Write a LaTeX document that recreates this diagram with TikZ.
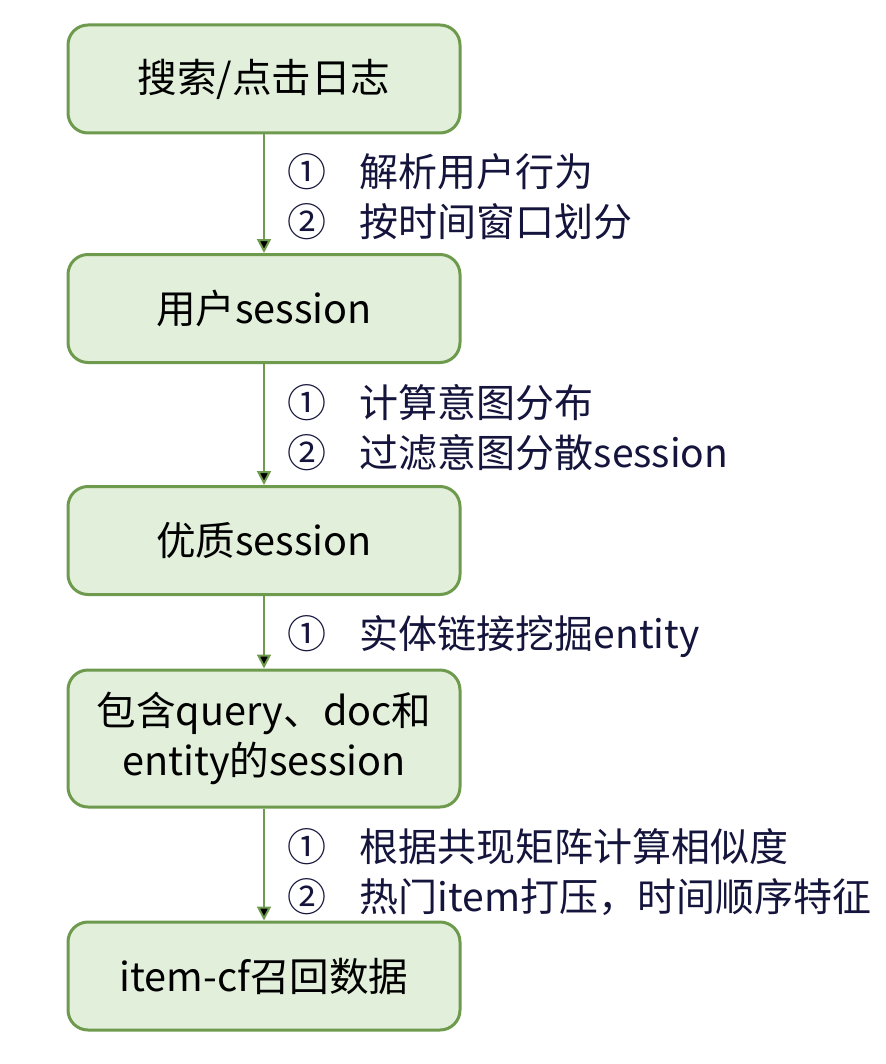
\documentclass[tikz,border=0pt]{standalone}
\usepackage{fontspec}
\setmainfont{Noto Sans CJK SC}
\usetikzlibrary{arrows.meta}
\definecolor{boxfill}{HTML}{E2EFDA}
\definecolor{boxline}{HTML}{6E9A4E}
\definecolor{labelink}{HTML}{14143C}
\tikzset{
  stagebox/.style={draw=boxline, fill=boxfill, line width=1.5pt, rounded corners=10pt,
    minimum width=196pt, minimum height=54pt, align=center,
    font=\fontsize{19.8}{25}\selectfont},
  flowarrow/.style={draw=boxline, line width=1pt, -{Triangle[length=7pt,width=7pt]}},
  steplabel/.style={anchor=west, xshift=8pt, align=left, text=labelink,
    font=\fontsize{19.5}{25}\selectfont}
}
\newcommand{\numa}{①\hspace{0.85em}}
\newcommand{\numb}{②\hspace{0.85em}}

\begin{document}
\begin{tikzpicture}[x=0.5pt,y=-0.5pt]
\useasboundingbox (0,0) rectangle (886,1064);
\node[stagebox] (log) at (264,79) {搜索/点击日志};
\node[stagebox] (usersess) at (264,308.5) {用户session};
\node[stagebox] (goodsess) at (264,540.5) {优质session};
\node[stagebox, minimum height=68.5pt] (entsess) at (264,738.5) {包含query、doc和\\entity的session};
\node[stagebox] (recall) at (264,976) {item-cf召回数据};

\path[flowarrow] (log) edge node[steplabel, yshift=-1.5pt] {\numa 解析用户行为\\\numb 按时间窗口划分} (usersess);
\path[flowarrow] (usersess) edge node[steplabel, yshift=-1.5pt] {\numa 计算意图分布\\\numb 过滤意图分散session} (goodsess);
\path[flowarrow] (goodsess) edge node[steplabel, yshift=-2pt] {\numa 实体链接挖掘entity} (entsess);
\path[flowarrow] (entsess) edge node[steplabel, yshift=-4pt] {\numa 根据共现矩阵计算相似度\\\numb 热门item打压，时间顺序特征} (recall);
\end{tikzpicture}
\end{document}
